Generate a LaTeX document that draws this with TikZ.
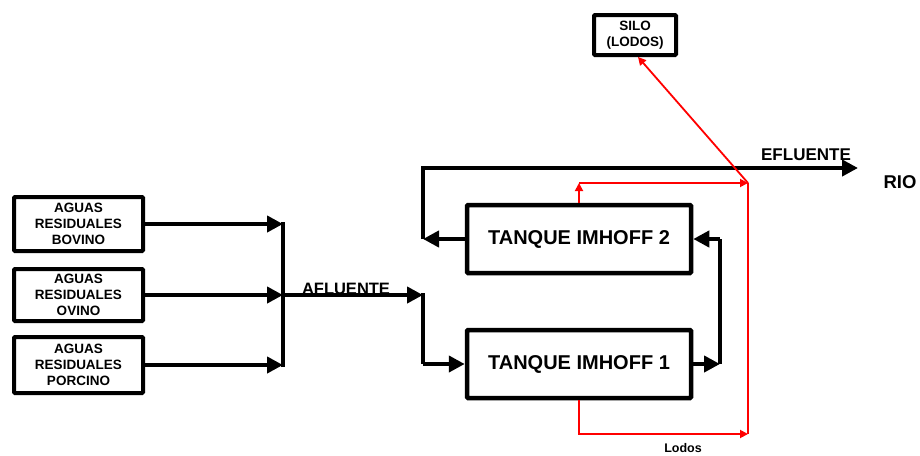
\documentclass[tikz,border=0pt]{standalone}
\usepackage{fontspec}
\setmainfont{Liberation Sans}
\usetikzlibrary{arrows.meta,calc}
\begin{document}
\begin{tikzpicture}[x=1pt,y=-1pt,
  box/.style={draw=black,line width=4pt,rounded corners=1pt,fill=white,inner sep=0pt,align=center,font=\bfseries\fontsize{13.5}{16}\selectfont},
  tank/.style={draw=black,line width=4.5pt,rounded corners=1pt,inner sep=0pt,minimum width=224pt,minimum height=68pt,font=\bfseries\fontsize{20}{24}\selectfont},
  flow/.style={line width=4.5pt,line join=miter},
  fa/.style={flow,-{Triangle[length=16pt,width=16pt]}},
  red/.style={draw=red,line width=1.8pt,line join=miter},
  ra/.style={red,-{Triangle[length=8pt,width=8pt]}},
  lbl/.style={font=\bfseries\fontsize{17}{20}\selectfont,anchor=base,inner sep=0pt}
]
\useasboundingbox (0,0) rectangle (920,455);

% source boxes
\node[box,minimum width=129pt,minimum height=54pt] (bov) at (78.5,224) {AGUAS\\RESIDUALES\\BOVINO};
\node[box,minimum width=129pt,minimum height=52pt] (ovi) at (78.5,295) {AGUAS\\RESIDUALES\\OVINO};
\node[box,minimum width=129pt,minimum height=56pt] (por) at (78.5,365) {AGUAS\\RESIDUALES\\PORCINO};

% tanks
\node[tank] (t2) at (579,239) {TANQUE IMHOFF 2};
\node[tank] (t1) at (579,364) {TANQUE IMHOFF 1};

% silo
\node[box,minimum width=82pt,minimum height=40pt] (silo) at (635,35) {SILO\\(LODOS)};

% coordinates
\coordinate (c1) at (283,224);
\coordinate (c2) at (283,295);
\coordinate (c3) at (283,365);
\coordinate (ctop) at (283,222);
\coordinate (cbot) at (283,367);
\coordinate (af) at (423,295);
\coordinate (aftop) at (423,293);
\coordinate (t1in) at (423,364);
\coordinate (r1) at (720,364);
\coordinate (r2) at (720,239);
\coordinate (l2) at (423,239);
\coordinate (ef) at (858,168);
\coordinate (j) at (748,183);
\coordinate (t2up) at (579,183);
\coordinate (jb) at (748,434);

% black flows
\draw[fa] (bov.east) -- (c1);
\draw[fa] (ovi.east) -- (c2);
\draw[fa] (por.east) -- (c3);
\draw[flow] (ctop) -- (cbot);
\draw[fa] (c2) -- (af);
\draw[flow] (aftop) -- (t1in);
\draw[fa] (t1in) -- (t1.west);
\draw[fa] (t1.east) -- (r1);
\draw[flow] (r1) -- (r2);
\draw[fa] (r2) -- (t2.east);
\draw[fa] (t2.west) -- (l2);
\draw[fa] (l2) |- (ef);

% red sludge lines
\draw[ra] (t2.north) -- (t2up);
\draw[ra] (t2up) -- (j);
\draw[red] (j) -- (jb);
\draw[ra] (t1.south) |- (jb);
\draw[ra] (j) -- ([xshift=3pt]silo.south);

% labels
\node[lbl,font=\bfseries\fontsize{16.5}{20}\selectfont] (aflbl) at (346,294) {AFLUENTE};
\node[lbl] (eflbl) at (806,160) {EFLUENTE};
\node[lbl,font=\bfseries\fontsize{18.5}{22}\selectfont] (rio) at (900,188) {RIO};
\node[lbl,font=\bfseries\fontsize{12.5}{15}\selectfont] (lodos) at (683,452) {Lodos};
\end{tikzpicture}
\end{document}
